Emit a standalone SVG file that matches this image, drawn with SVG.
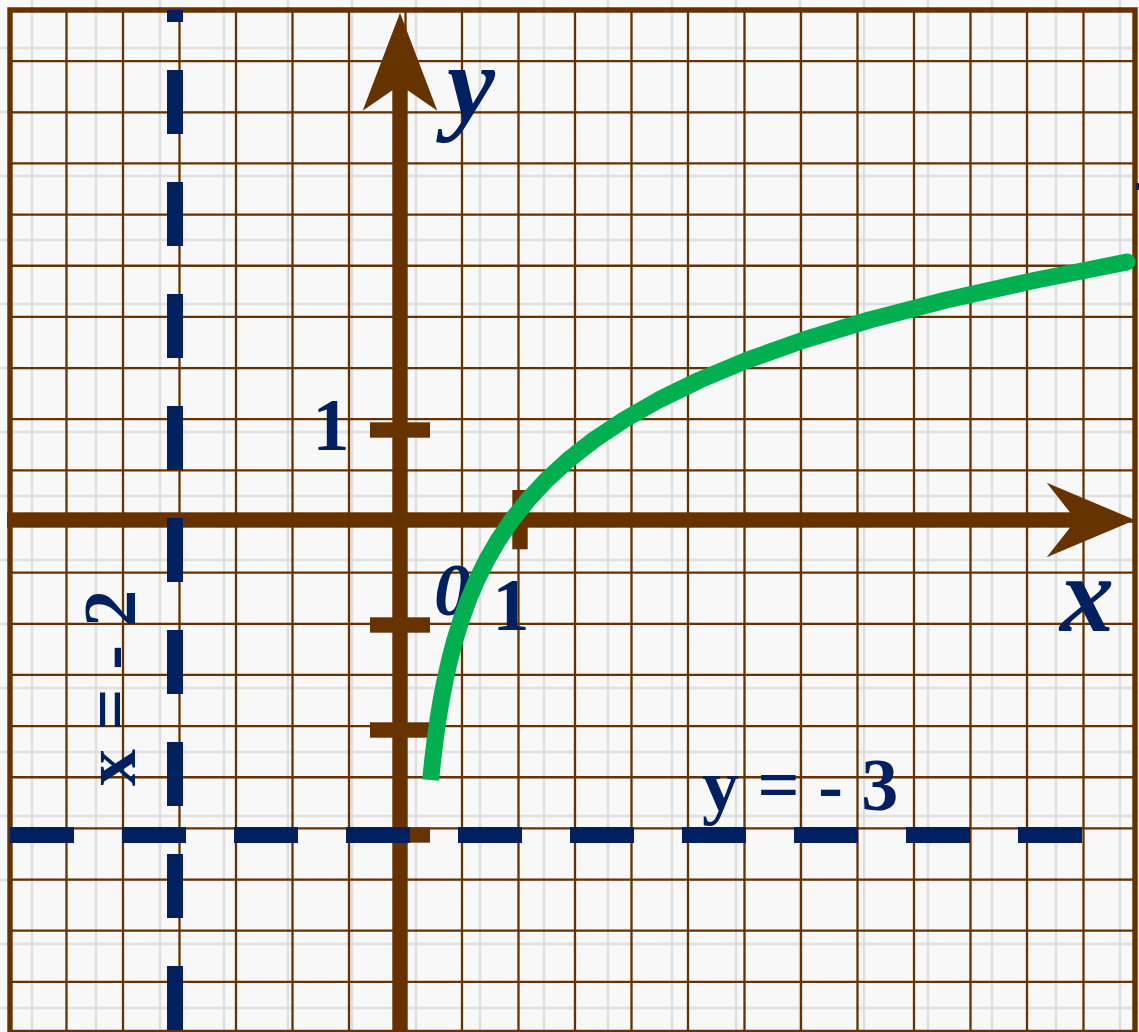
<svg xmlns="http://www.w3.org/2000/svg" width="1139" height="1032" viewBox="0 0 1139 1032">
<style>
.bg{fill:#f8f8f8}
.gray{stroke:#dfdfdf;stroke-width:2.6;fill:none}
.brown{stroke:#663300;stroke-width:2.3;fill:none}
.border{stroke:#663300;stroke-width:5.4;fill:none}
.axis{fill:#663300}
.dash{stroke:#002060;stroke-width:16;fill:none;stroke-dasharray:64 48}
.lbl{font-family:"Liberation Serif","Times New Roman",serif;font-weight:bold;fill:#002060}
.it{font-style:italic}
.curve{stroke:#00b050;stroke-width:17;fill:none;stroke-linecap:butt;stroke-linejoin:round}
</style>
<rect class="bg" x="0" y="0" width="1139" height="1032"/>
<g id="bg-grid">
<path class="gray" d="M32,0V1032M96,0V1032M160,0V1032M224,0V1032M288,0V1032M352,0V1032M416,0V1032M480,0V1032M544,0V1032M608,0V1032M672,0V1032M736,0V1032M800,0V1032M864,0V1032M928,0V1032M992,0V1032M1056,0V1032M1120,0V1032"/>
<path class="gray" d="M0,48H1139M0,112H1139M0,176H1139M0,240H1139M0,304H1139M0,368H1139M0,432H1139M0,496H1139M0,560H1139M0,624H1139M0,688H1139M0,752H1139M0,816H1139M0,880H1139M0,944H1139M0,1008H1139"/>
</g>
<g id="grid">
<path class="brown" d="M66.5,10V1032M123,10V1032M179.5,10V1032M236,10V1032M292.5,10V1032M349,10V1032M405.5,10V1032M462,10V1032M518.5,10V1032M575,10V1032M631.5,10V1032M688,10V1032M744.5,10V1032M801,10V1032M857.5,10V1032M914,10V1032M970.5,10V1032M1027,10V1032M1083.5,10V1032"/>
<path class="brown" d="M10,61.15H1135M10,112.3H1135M10,163.45H1135M10,214.6H1135M10,265.75H1135M10,316.9H1135M10,368.05H1135M10,419.2H1135M10,470.35H1135M10,521.5H1135M10,572.65H1135M10,623.8H1135M10,674.95H1135M10,726.1H1135M10,777.25H1135M10,828.4H1135M10,879.55H1135M10,930.7H1135M10,981.85H1135M10,1031H1135"/>
<path class="border" d="M10,1032V10H1135V1032"/>
</g>
<g id="axes">
<rect class="axis" x="392.3" y="84" width="15.4" height="948"/>
<polygon class="axis" points="400,12.7 437.3,110.7 400,85 362.7,110.7"/>
<rect class="axis" x="7" y="512.3" width="1071" height="15.4"/>
<polygon class="axis" points="1135,520 1046.7,557.3 1076,520 1046.7,482.7"/>
<rect class="axis" x="370" y="422.3" width="60" height="15.4"/>
<rect class="axis" x="370" y="617.3" width="60" height="15.4"/>
<rect class="axis" x="370" y="722.3" width="60" height="15.4"/>
<rect class="axis" x="370" y="827.3" width="60" height="15.4"/>
<rect class="axis" x="512.3" y="490" width="15.4" height="59.3"/>
</g>
<g id="labels">
<text class="lbl" x="331" y="450" font-size="74" text-anchor="middle">1</text>
<text class="lbl" x="511" y="630" font-size="74" text-anchor="middle">1</text>
<text class="lbl it" x="434" y="615" font-size="74">0</text>
<text class="lbl it" x="447" y="120" font-size="108">y</text>
<text class="lbl it" x="1060" y="631" font-size="108">x</text>
<text class="lbl" x="702" y="810" font-size="74">y = - 3</text>
<text class="lbl" transform="translate(135,786) rotate(-90)" font-size="74">x = - 2</text>
</g>
<g id="graph">
<polyline class="curve" points="430.65,780 432.7,760 435.1,740 437.9,720 441.2,700 445.1,680 449.6,660 454.9,640 461.1,620 468.3,600 476.8,580 486.7,560 498.3,540 511.9,520 527.9,500 546.5,480 568.3,460 593.8,440 623.8,420 658.7,400 699.7,380 747.6,360 803.8,340 869.4,320 946.3,300 1036.3,280 1087,270 1127,262"/>
<circle cx="1127" cy="262" r="8.5" fill="#00b050"/>
</g>
<g id="connectors">
<path class="dash" d="M175,10V1030" stroke-dashoffset="52"/>
<path class="dash" d="M10,835H1082"/>
<rect x="1136" y="183" width="3" height="7" fill="#002060"/>
</g>
</svg>
